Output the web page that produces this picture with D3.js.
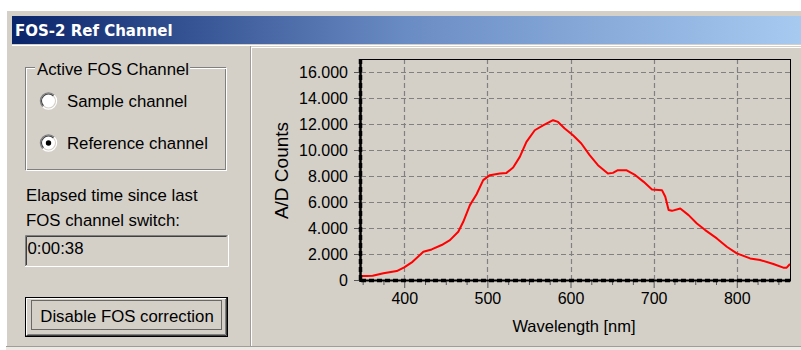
<!DOCTYPE html>
<html><head><meta charset="utf-8">
<script src="https://cdn.jsdelivr.net/npm/d3@7"></script>
<style>
body{margin:0;background:#fff}
svg{display:block}
text{font-family:"Liberation Sans",Arial,sans-serif;fill:#000}
</style>
</head><body>
<svg id="c" width="801" height="350"></svg>
<script>
// ---------------- data ----------------
const wavelengths = [348,355,362,375,391,400,410,423,433,445,455,465,471,479,487,495,503,515,523,531,539,547,557,567,579,585,593,603,613,623,633,645,651,657,667,678,688,698,710,714,718,722,732,742,752,762,776,788,800,816,828,844,856,860,864];
const counts = [300,310,330,515,690,975,1400,2170,2350,2690,3070,3710,4480,5760,6600,7680,8065,8190,8240,8650,9470,10620,11520,11900,12290,12160,11650,11140,10500,9600,8830,8190,8240,8450,8450,8065,7550,6960,6910,6400,5380,5320,5500,4990,4350,3840,3200,2560,2050,1660,1540,1230,950,950,1230];
const yTicks = [0,2000,4000,6000,8000,10000,12000,14000,16000];
const yTickLabels = ["0","2.000","4.000","6.000","8.000","10.000","12.000","14.000","16.000"];
const xTicks = [400,500,600,700,800];
const xTickLabels = ["400","500","600","700","800"];
const xMinorTicks = [350,375,425,450,475,525,550,575,625,650,675,725,750,775,825,850];
const windowTitle = "FOS-2 Ref Channel";
const groupTitle = "Active FOS Channel";
const radioLabels = ["Sample channel","Reference channel"];
const selectedRadio = 1;
const elapsedLines = ["Elapsed time since last","FOS channel switch:"];
const elapsedValue = "0:00:38";
const buttonLabel = "Disable FOS correction";
const xTitle = "Wavelength [nm]";
const yTitle = "A/D Counts";

// ---------------- layout ----------------
const svg = d3.select("#c");
const face = "#d4d0c8";
const defs = svg.append("defs");
const grad = defs.append("linearGradient").attr("id","tb").attr("x1","0").attr("x2","1");
grad.append("stop").attr("offset","0").attr("stop-color","#0a246a");
grad.append("stop").attr("offset","0.5").attr("stop-color","#6a8cc4");
grad.append("stop").attr("offset","1").attr("stop-color","#a6caf0");

// window frame
svg.append("rect").attr("x",6).attr("y",10).attr("width",795).attr("height",340).attr("fill","#ece9e4");
svg.append("rect").attr("x",6).attr("y",10).attr("width",795).attr("height",337).attr("fill",face);
svg.append("line").attr("x1",6.5).attr("x2",6.5).attr("y1",10).attr("y2",347).attr("stroke","#fff");
svg.append("line").attr("x1",6).attr("x2",801).attr("y1",10.5).attr("y2",10.5).attr("stroke","#fff");
svg.append("line").attr("x1",6).attr("x2",801).attr("y1",346.5).attr("y2",346.5).attr("stroke","#a09d98");
// title bar
svg.append("rect").attr("x",12).attr("y",16).attr("width",789).attr("height",28).attr("fill","url(#tb)");
svg.append("text").attr("x",15).attr("y",36).text(windowTitle)
  .style("font-family","'DejaVu Sans',Verdana,sans-serif").style("font-weight","bold")
  .style("font-size","15px").style("fill","#fff");
svg.append("line").attr("x1",12).attr("x2",801).attr("y1",45.5).attr("y2",45.5).attr("stroke","#fff");
// right panel edge
svg.append("line").attr("x1",251.5).attr("x2",251.5).attr("y1",47).attr("y2",346).attr("stroke","#fff");
svg.append("line").attr("x1",251).attr("x2",801).attr("y1",47.5).attr("y2",47.5).attr("stroke","#fff");
svg.append("line").attr("x1",250.5).attr("x2",250.5).attr("y1",46).attr("y2",346).attr("stroke","#a09d98");

// ---------------- left controls ----------------
const fs = "16.8px";
// group box (etched)
svg.append("rect").attr("x",25.5).attr("y",67.5).attr("width",200).attr("height",102).attr("fill","none").attr("stroke","#808080");
svg.append("rect").attr("x",26.5).attr("y",68.5).attr("width",200).attr("height",102).attr("fill","none").attr("stroke","#fff");
const gt = svg.append("text").attr("x",37).attr("y",75).style("font-size",fs).text(groupTitle);
const gw = gt.node().getComputedTextLength();
svg.insert("rect","text:last-of-type").attr("x",35).attr("y",62).attr("width",gw+3).attr("height",10).attr("fill",face);
gt.raise();

// radios
const radioY = [101,143];
const arcOuter = d3.arc();
radioLabels.forEach((lab,i)=>{
  const g = svg.append("g").attr("transform",`translate(48.5,${radioY[i]})`);
  g.append("circle").attr("r",8).attr("fill","#fff");
  g.append("path").attr("d",arcOuter({innerRadius:7.5,outerRadius:8.7,startAngle:-3*Math.PI/4,endAngle:Math.PI/4})).attr("fill","#808080");
  g.append("path").attr("d",arcOuter({innerRadius:7.5,outerRadius:8.7,startAngle:Math.PI/4,endAngle:5*Math.PI/4})).attr("fill","#fff");
  g.append("path").attr("d",arcOuter({innerRadius:6.4,outerRadius:7.5,startAngle:-3*Math.PI/4,endAngle:Math.PI/4})).attr("fill","#404040");
  g.append("path").attr("d",arcOuter({innerRadius:6.4,outerRadius:7.5,startAngle:Math.PI/4,endAngle:5*Math.PI/4})).attr("fill",face);
  if(i===selectedRadio) g.append("circle").attr("r",2.7).attr("fill","#000");
  svg.append("text").attr("x",67).attr("y",radioY[i]+6.3).style("font-size",fs).text(lab);
});

// elapsed text
svg.append("text").attr("x",26).attr("y",200.5).style("font-size",fs).text(elapsedLines[0]);
svg.append("text").attr("x",26).attr("y",226).style("font-size",fs).text(elapsedLines[1]);
// sunken edit box
svg.append("rect").attr("x",25).attr("y",235).attr("width",203).attr("height",32).attr("fill",face);
svg.append("path").attr("d","M25.5,266V235.5H227.5").attr("fill","none").attr("stroke","#808080");
svg.append("path").attr("d","M26.5,265V236.5H226.5").attr("fill","none").attr("stroke","#404040");
svg.append("path").attr("d","M25,266.5H228.5V235").attr("fill","none").attr("stroke","#fff");
svg.append("text").attr("x",27.5).attr("y",254).style("font-size",fs).text(elapsedValue);

// button
svg.append("rect").attr("x",25.5).attr("y",297.5).attr("width",202).attr("height",39).attr("fill",face).attr("stroke","#000");
svg.append("path").attr("d","M26.5,335V298.5H226.5").attr("fill","none").attr("stroke","#fff");
svg.append("path").attr("d","M26.5,335.5H226.5V298").attr("fill","none").attr("stroke","#404040");
svg.append("path").attr("d","M27.5,334.5H225.5V299").attr("fill","none").attr("stroke","#808080");
svg.append("rect").attr("x",31.5).attr("y",300.5).attr("width",190).attr("height",29).attr("fill","none")
  .attr("stroke","#000").attr("stroke-dasharray","1,1");
svg.append("text").attr("x",127).attr("y",321.5).attr("text-anchor","middle").style("font-size",fs).text(buttonLabel);

// ---------------- chart ----------------
const L=361, R=790, T=59, B=280;
const x = d3.scaleLinear().domain([348,864]).range([L,R]);
const y = d3.scaleLinear().domain([0,17000]).range([B,T]);
const grid = svg.append("g");
const dash = "5,3";
grid.selectAll("line.h").data(yTicks.filter(d=>d>0)).join("line")
  .attr("x1",L).attr("x2",R).attr("y1",d=>Math.round(y(d))+0.5).attr("y2",d=>Math.round(y(d))+0.5)
  .attr("stroke","#808080").attr("stroke-width",1.2).attr("stroke-dasharray",dash);
grid.selectAll("line.v").data(xTicks).join("line")
  .attr("y1",T).attr("y2",B).attr("x1",d=>Math.round(x(d))+0.5).attr("x2",d=>Math.round(x(d))+0.5)
  .attr("stroke","#808080").attr("stroke-width",1.2).attr("stroke-dasharray",dash);

// curve
svg.append("clipPath").attr("id","pc").append("rect").attr("x",L).attr("y",T).attr("width",R-L).attr("height",B-T);
const line = d3.line().x((d,i)=>x(wavelengths[i])).y(d=>y(d)).curve(d3.curveLinear);
svg.append("path").datum(counts).attr("d",line).attr("clip-path","url(#pc)")
  .attr("fill","none").attr("stroke","#ff0000").attr("stroke-width",2).attr("stroke-linejoin","round");

// frame
svg.append("line").attr("x1",L).attr("x2",R+1).attr("y1",T+0.5).attr("y2",T+0.5).attr("stroke","#000");
svg.append("line").attr("x1",R+0.5).attr("x2",R+0.5).attr("y1",T).attr("y2",B+1).attr("stroke","#000");

// axes with d3
const xAxisG = svg.append("g").attr("transform",`translate(0,${B+1})`)
  .call(d3.axisBottom(x).tickValues(xTicks).tickFormat((d,i)=>xTickLabels[i]).tickSize(7).tickPadding(5));
const xMinorG = svg.append("g").attr("transform",`translate(0,${B+1})`)
  .call(d3.axisBottom(x).tickValues(xMinorTicks).tickFormat("").tickSize(4));
const yAxisG = svg.append("g").attr("transform",`translate(${L-1},0)`)
  .call(d3.axisLeft(y).tickValues(yTicks).tickFormat((d,i)=>yTickLabels[i]).tickSize(6).tickPadding(6));
[xAxisG,xMinorG,yAxisG].forEach(g=>{
  g.select(".domain").remove();
  g.selectAll("line").attr("stroke","#555");
  g.selectAll("text").style("font-size","16px").style("font-family","'Liberation Sans',Arial,sans-serif").attr("fill","#000");
});
xAxisG.selectAll("text").attr("dy","0.71em");
yAxisG.selectAll("text").attr("dy","0.35em");

// thick axis lines
svg.append("line").attr("x1",L).attr("x2",R+1).attr("y1",B+0.5).attr("y2",B+0.5).attr("stroke","#000").attr("stroke-width",2);
svg.append("line").attr("x1",L).attr("x2",R).attr("y1",B+0.5).attr("y2",B+0.5).attr("stroke","#000").attr("stroke-width",3.5).attr("stroke-dasharray",dash);
svg.append("line").attr("x1",L-0.5).attr("x2",L-0.5).attr("y1",T).attr("y2",B+2).attr("stroke","#000").attr("stroke-width",2.5);
svg.append("line").attr("x1",L-0.5).attr("x2",L-0.5).attr("y1",T).attr("y2",B).attr("stroke","#000").attr("stroke-width",3.5).attr("stroke-dasharray",dash);

// titles
svg.append("text").attr("x",574).attr("y",331.5).attr("text-anchor","middle").style("font-size","16.5px").text(xTitle);
svg.append("text").attr("transform","translate(288,170.5) rotate(-90)").attr("text-anchor","middle").style("font-size","19px").text(yTitle);
</script>
</body></html>
